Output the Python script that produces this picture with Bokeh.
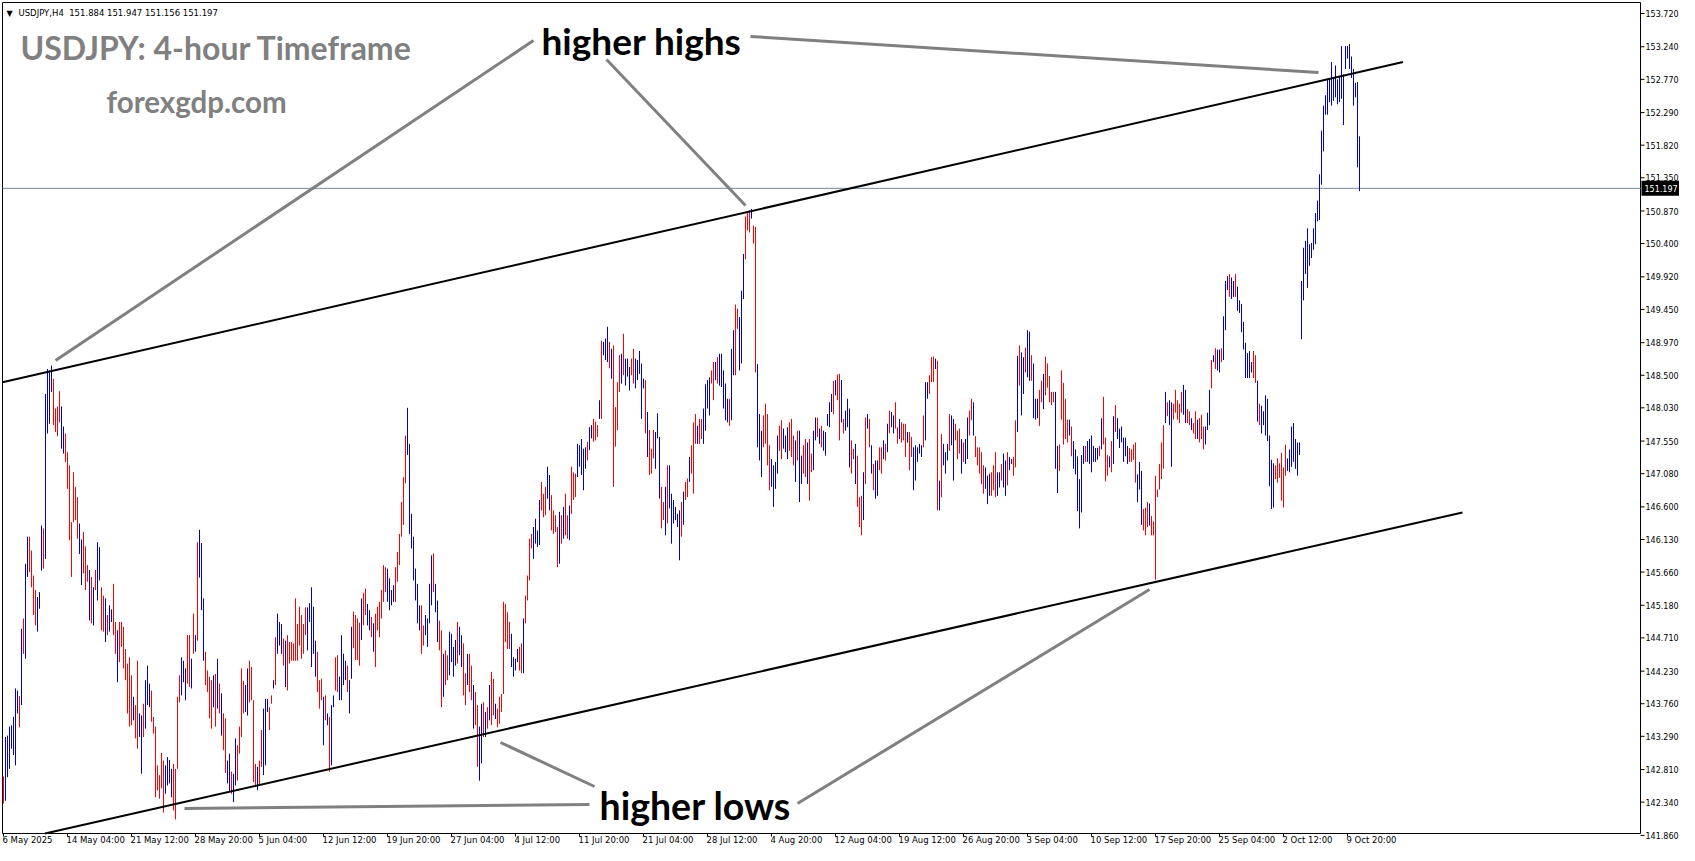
from bokeh.plotting import figure
from bokeh.models import Range1d, ColumnDataSource
from bokeh.core.properties import value
from bokeh.embed import file_html
from bokeh.resources import INLINE

# ------------------------------------------------------------------ data
symbol_header = "USDJPY,H4\u00a0\u00a0151.884 151.947 151.156 151.197"
last_price = 151.197

date_ticks = [0, 32, 64, 96, 128, 160, 192, 224, 256, 288, 320, 352, 384, 416,
              448, 480, 512, 544, 576, 608, 640, 672]
date_labels = ["6 May 2025", "14 May 04:00", "21 May 12:00", "28 May 20:00", "5 Jun 04:00",
               "12 Jun 12:00", "19 Jun 20:00", "27 Jun 04:00", "4 Jul 12:00", "11 Jul 20:00",
               "21 Jul 04:00", "28 Jul 12:00", "4 Aug 20:00", "12 Aug 04:00", "19 Aug 12:00",
               "26 Aug 20:00", "3 Sep 04:00", "10 Sep 12:00", "17 Sep 20:00", "25 Sep 04:00",
               "2 Oct 12:00", "9 Oct 20:00"]
price_ticks = [153.72, 153.24, 152.77, 152.29, 151.82, 151.35, 150.87, 150.40, 149.92,
               149.45, 148.97, 148.50, 148.03, 147.55, 147.08, 146.60, 146.13, 145.66,
               145.18, 144.71, 144.23, 143.76, 143.29, 142.81, 142.34, 141.86]

# channel lines (bar index, price)
upper_channel_x = [-0.5, 699.75]
upper_channel_y = [148.398, 153.02]
lower_channel_x = [-0.25, 729.5]
lower_channel_y = [141.75, 146.52]

# H4 bars: 6 May 20:00 .. 16 Jun 16:00
high_a = [142.71,143.28,143.30,143.43,143.45,143.57,143.98,143.95,143.87,144.84,
          144.99,145.78,146.17,146.17,145.97,145.61,145.40,145.30,145.37,146.33,
          146.29,148.23,148.59,148.57,148.64,148.45,148.02,148.05,148.27,148.05,
          147.76,147.66,147.39,147.20,146.38,147.10,146.89,146.74,146.36,146.13,
          146.24,146.03,145.76,145.69,145.59,145.44,145.69,146.09,146.02,145.44,
          145.32,145.28,145.04,145.18,145.12,145.49,144.94,144.82,144.94,144.94,
          144.87,144.55,144.34,144.43,144.17,143.86,143.74,144.38,143.62,143.59,
          143.76,144.10,144.31,144.05,143.95,143.57,143.43,142.87,142.73,143.05,
          142.94,142.87,142.99,142.95,142.82,142.89,142.82,143.86,144.17,144.43,
          144.38,144.27,144.75,144.75,144.41,145.06,144.75,146.09,146.27,146.08,
          145.28,144.51,144.24,144.15,144.10,144.17,144.19,144.41,144.05,143.91,
          143.62,143.55,142.94,143.04,142.78,142.75,143.26,143.16,143.43,144.27,
          144.09,144.03,144.27,144.38,144.29,143.81,142.89,142.85,142.94,143.38,
          143.69,143.83,143.83,143.71,143.88,144.10,144.72,145.06,144.94,144.91,
          144.70,144.67,144.75,144.65,144.65,144.63,145.28,144.91,145.16,145.04,
          144.91,145.15,145.15,145.21,145.44,145.16,144.67,144.51,144.10,144.12,
          143.86,143.88,143.62,143.57,143.74,143.88,144.43,144.46,144.15,144.75,
          144.48,144.38,144.31,144.10]
low_a = [142.32,142.36,142.70,142.82,143.11,143.02,142.87,143.62,143.42,143.74,
         144.48,144.41,145.59,145.66,145.44,145.04,144.89,144.80,145.13,145.68,
         145.71,145.85,147.66,147.80,148.26,147.78,147.68,147.62,147.82,147.44,
         147.37,147.25,146.86,146.12,145.59,146.38,146.41,146.14,145.92,145.47,
         145.64,145.40,145.52,144.96,144.92,144.89,145.40,145.25,145.54,144.82,
         144.80,144.65,144.75,144.80,144.94,144.75,144.48,144.07,144.36,144.58,
         144.27,144.10,143.62,143.43,143.45,143.52,143.26,143.11,143.28,142.75,
         143.28,143.40,143.74,143.71,143.50,143.33,142.41,142.51,142.39,142.54,
         142.19,142.46,142.58,142.61,142.41,142.22,142.09,142.82,143.78,143.88,
         144.07,143.81,144.05,144.00,143.98,144.48,144.51,144.67,145.58,145.11,
         144.38,144.03,143.93,143.55,143.40,143.71,143.43,143.69,143.62,143.30,
         143.09,142.76,142.61,142.49,142.46,142.34,142.58,142.65,143.04,143.28,
         143.62,143.64,143.59,143.78,143.81,142.63,142.56,142.51,142.58,142.85,
         142.73,142.87,143.64,143.38,143.76,143.98,144.03,144.48,144.60,144.48,
         144.31,144.00,143.95,144.34,144.38,144.38,144.38,144.38,144.60,144.41,
         144.48,144.75,144.53,144.94,144.29,144.48,144.15,143.93,143.69,143.81,
         143.16,143.52,143.45,142.78,142.87,143.71,143.95,143.93,143.81,143.81,
         144.03,144.10,143.93,143.62]
dir_a = ("duuuuuuudu duudddduuud uuuudddduud dddddduudd dududuudd "
         "uduuddudddd dddudduudu uudddddddu uuudddduuu ddududuuudd "
         "ddudududduu d")

# 16 Jun 20:00 .. 25 Jul 00:00
high_b = [144.87,145.09,145.04,144.99,144.93,145.28,145.36,145.42,145.20,145.11,
          145.01,144.92,145.06,145.16,145.23,145.40,145.76,145.73,145.71,145.57,
          145.40,145.47,145.73,145.95,146.21,146.67,147.03,147.63,148.03,147.51,
          146.50,146.17,145.71,145.49,145.18,145.18,144.89,145.04,144.99,145.49,
          145.90,145.93,145.49,145.25,144.96,144.82,144.48,144.53,144.46,144.80,
          144.77,144.58,144.68,144.94,144.87,144.75,144.63,144.20,144.48,144.48,
          144.31,144.03,143.93,143.74,143.43,143.76,143.78,143.64,143.71,144.03,
          144.22,144.12,143.76,143.69,143.86,143.90,145.23,145.20,145.08,144.94,
          144.77,144.43,144.41,144.55,144.58,144.63,144.99,145.32,145.61,146.14,
          146.21,146.31,146.43,146.26,146.70,146.96,146.79,146.89,147.18,147.06,
          146.77,146.55,146.48,146.31,146.53,146.48,146.60,146.79,146.48,146.62,
          147.18,147.10,147.08,147.51,147.49,147.58,147.44,147.46,147.54,147.75,
          147.78,147.87,147.83,147.78,148.14,149.00,148.98,149.03,149.20,148.98,
          148.88,148.93,148.04,148.40,148.79,148.81,149.10,148.74,148.74,148.62,
          148.74,148.88,148.74,148.72,148.85,148.67,148.45,148.43,147.97,147.71,
          147.44,147.71,147.68,147.95,147.61,146.89,146.67,146.89,147.20,147.20,
          146.79,146.70,146.60,146.50,146.55,146.67,146.82,146.96,147.01,147.32]
low_b = [144.12,144.56,144.39,144.39,144.31,144.68,144.89,145.04,144.89,144.82,
         144.72,144.51,144.29,144.82,144.72,144.99,145.23,145.37,145.23,145.11,
         145.18,145.23,145.23,145.52,145.76,146.17,146.34,146.94,147.35,146.21,
         146.00,145.54,145.25,144.92,144.82,144.48,144.60,144.75,144.58,144.92,
         145.18,145.37,145.08,144.65,144.53,143.71,143.86,144.03,144.10,144.17,
         144.36,144.15,144.31,144.34,144.46,144.29,143.88,143.74,144.03,143.93,
         143.81,143.40,143.45,142.85,142.65,142.90,143.28,143.28,143.40,143.52,
         143.45,143.59,143.54,143.42,143.47,143.64,143.90,144.65,144.55,144.55,
         144.29,144.15,144.24,144.36,144.24,144.20,144.20,144.92,145.25,145.54,
         146.00,145.85,146.07,146.02,146.05,146.55,146.45,146.48,146.72,146.55,
         146.26,146.21,146.24,145.73,145.78,146.07,146.14,146.19,146.14,146.12,
         146.50,146.70,146.74,147.03,147.18,147.06,146.84,147.15,147.27,147.42,
         147.59,147.54,147.56,147.61,147.87,147.87,148.79,148.72,148.69,148.60,
         148.45,146.89,147.47,147.71,148.26,148.38,148.50,148.35,148.48,148.28,
         148.50,148.38,148.31,148.43,148.52,147.87,148.31,147.66,147.32,147.06,
         147.08,147.30,147.15,147.59,146.72,146.29,146.41,146.19,146.36,146.58,
         146.07,146.36,146.41,146.31,145.83,146.17,146.34,146.70,146.74,146.96]
dir_b = ("uudddduudd ddudduuudd uduuududdd ddddddduuuu udddududuu "
         "dduuuuduudd ddudduudud ddddduuuudd dddduuuuuuu dduuuuduud "
         "dudduuuudu uddudduddu udududduddd dddduuuuddu dddduuuuddd "
         "uuddddudud duddduuuuu")

# 25 Jul 04:00 .. 3 Sep 00:00
high_c = [147.49,147.82,147.94,147.77,147.87,147.87,148.02,148.37,148.43,148.47,
          148.57,148.69,148.69,148.76,148.81,148.81,148.57,148.38,148.16,148.16,
          148.88,149.15,149.52,149.46,149.34,149.72,150.25,150.79,150.84,150.88,
          150.90,150.66,150.64,148.66,147.94,147.70,147.92,148.09,147.94,147.49,
          147.29,147.20,147.25,147.63,147.77,147.85,147.73,147.63,147.75,147.82,
          147.87,147.63,147.56,147.70,147.70,147.34,147.49,147.58,147.53,147.58,
          147.37,147.70,147.89,147.89,147.73,147.77,147.70,147.68,147.94,148.11,
          148.23,148.42,148.43,148.51,148.52,148.43,147.87,147.99,148.16,148.02,
          147.56,147.44,147.51,147.34,146.74,146.76,147.10,147.89,147.94,147.87,
          147.49,147.22,147.27,147.27,147.46,147.46,147.56,147.51,147.80,147.99,
          147.97,147.92,148.11,147.75,147.87,147.82,147.80,147.80,147.68,147.68,
          147.61,147.46,147.49,147.46,147.51,147.49,147.92,148.40,148.40,148.50,
          148.76,148.77,148.74,148.71,146.98,147.65,147.51,147.39,147.51,147.94,
          147.92,147.87,147.80,147.70,147.73,147.58,147.53,147.58,147.89,147.99,
          148.16,148.11,147.62,147.46,147.46,147.39,147.20,147.17,147.05,147.08,
          147.10,147.20,147.39,147.10,147.10,147.22,147.37,147.27,147.39,147.32,
          147.29,147.32,147.85,148.78,148.93,148.83,148.76,148.90,149.15]
low_c = [147.08,146.79,147.51,147.51,147.51,147.58,147.51,147.70,148.02,147.92,
         148.38,148.14,148.43,148.38,148.35,148.33,148.02,147.85,147.82,147.77,
         147.85,148.50,148.50,149.17,148.57,148.67,149.60,150.17,150.59,150.56,
         150.76,150.40,148.54,147.46,147.27,147.03,147.46,147.51,147.20,146.84,
         146.89,146.60,146.86,147.08,147.41,147.29,147.44,147.39,147.29,147.41,
         147.32,147.20,146.96,147.27,146.67,146.93,147.08,147.03,146.93,146.69,
         147.10,147.13,147.56,147.61,147.51,147.46,147.41,147.34,147.77,147.75,
         147.97,147.94,148.21,148.14,147.56,147.82,147.66,147.70,147.75,147.17,
         147.08,147.29,146.93,146.60,146.31,146.19,146.41,146.93,147.73,147.46,
         147.08,146.84,146.72,146.76,147.13,147.08,147.29,147.27,147.39,147.66,
         147.75,147.66,147.73,147.51,147.58,147.53,147.56,147.32,147.53,147.13,
         147.32,146.84,146.98,147.25,147.37,147.32,147.46,147.56,148.16,148.23,
         148.40,148.40,148.59,146.55,146.55,146.74,147.20,147.08,147.27,147.41,
         147.49,146.98,147.56,147.29,147.37,147.08,147.25,147.22,147.29,147.63,
         147.85,147.63,147.32,147.20,147.08,146.93,146.79,146.86,146.64,146.76,
         146.76,146.84,146.74,146.76,146.88,146.98,146.88,146.76,146.91,147.13,
         147.22,147.05,147.17,147.68,148.35,147.92,148.23,148.54,148.47]
dir_c = ("duudddudu uududdddud uuudduuuuu duddduuudd uduuuuuudu "
         "ddudddudd uuuudduduuu uuduudduuud ddudduuudd dduuuudduu "
         "uddduduudd u dduududuuuu ududduduuu ddudddudud uduuddudud "
         "uuddudddudd uuuuuduudd")

# 3 Sep 04:00 .. 10 Oct 20:00
high_d = [149.13,148.79,148.67,148.16,148.16,148.29,148.42,148.52,148.77,148.67,
          148.49,148.26,148.26,148.26,147.48,147.50,148.57,148.39,148.16,147.86,
          147.86,147.76,147.55,147.43,147.33,147.00,147.35,147.48,147.48,147.55,
          147.58,147.63,147.48,147.45,147.45,147.48,147.88,148.19,147.60,147.35,
          147.33,147.55,147.91,148.07,147.88,147.73,147.76,147.60,147.60,147.48,
          147.45,147.43,147.50,147.53,147.07,147.25,147.12,146.57,146.59,146.67,
          146.65,146.47,146.39,147.05,146.85,147.22,147.53,147.78,148.26,148.11,
          148.14,148.11,148.09,148.29,148.14,148.09,148.26,148.36,148.29,148.01,
          147.98,147.88,147.81,147.98,147.86,147.88,147.93,147.76,147.76,147.96,
          148.29,148.72,148.79,148.89,148.87,148.87,148.89,149.35,149.86,149.93,
          149.96,149.91,149.86,149.96,149.78,149.58,149.53,149.27,148.97,148.82,
          148.85,148.69,148.85,148.79,148.42,148.09,148.06,147.98,148.21,148.16,
          147.63,147.28,147.23,147.20,147.30,147.23,147.38,147.17,147.50,147.30,
          147.43,147.76,147.81,147.58,147.53,147.53,149.86,150.34,150.44,150.62,
          150.39,150.41,150.62,150.84,151.02,151.40,152.03,152.39,152.54,152.77,
          152.79,153.02,152.79,152.97,152.77,152.82,153.25,152.84,153.25,153.25,
          153.28,153.10,152.92,152.72,152.73,151.947]
low_d = [148.42,148.42,147.88,147.86,147.88,147.77,148.11,148.01,148.21,148.32,
         148.11,148.07,148.11,147.15,146.80,147.12,147.86,147.50,147.58,147.53,
         147.63,147.33,147.15,147.07,146.54,146.29,146.52,147.22,147.25,147.25,
         147.22,147.10,147.25,147.25,147.28,147.33,147.43,147.50,146.97,147.05,
         147.17,147.10,147.22,147.68,147.58,147.45,147.53,147.25,147.33,147.22,
         147.25,147.25,147.28,146.95,146.67,146.85,146.34,146.26,146.19,146.31,
         146.33,146.19,146.19,145.55,146.74,146.85,147.00,147.15,147.81,147.91,
         147.78,147.18,147.86,147.96,147.86,147.81,147.96,147.93,147.81,147.81,
         147.78,147.71,147.66,147.58,147.58,147.53,147.58,147.43,147.50,147.71,
         147.78,148.31,148.69,148.59,148.57,148.54,148.69,148.72,149.15,149.73,
         149.63,149.60,149.63,149.63,149.43,149.40,149.12,148.87,148.46,148.46,
         148.46,148.54,148.46,148.39,147.83,147.78,147.66,147.78,147.63,147.55,
         146.90,146.57,146.59,147.00,146.95,147.02,146.69,146.59,147.05,147.12,
         147.10,147.18,147.25,147.15,147.05,147.35,149.02,149.58,149.96,149.76,
         150.08,150.19,150.31,150.39,150.72,150.74,151.25,151.73,152.26,152.26,
         152.44,152.39,152.46,152.51,152.41,152.44,152.49,152.11,152.92,153.07,
         152.92,152.79,152.39,152.51,151.50,151.156]
dir_d = ("dududuuudu uddd ud uuddu dddddu uuddd uuduuduuddu duuduuduuud "
         "dudddddu udd dddudu uuuu uduuuuuudu dddududuuu uuudddduuud "
         "ddudddddddu duuddddduud dudduddduuu duduuduuud uudu uuuuuuu "
         "ddudu uuuuuu dddddd")

# ------------------------------------------------------------------ assemble
def dirs(s):
    return [c for c in s if c in "ud"]

highs = high_a + high_b + high_c + high_d
lows = low_a + low_b + low_c + low_d
n = len(highs)
ds = (dirs(dir_a) + dirs(dir_b) + dirs(dir_c) + dirs(dir_d) + ["u"] * n)[:n]
xs = list(range(n))
cols = ["#0000CD" if d == "u" else "#FF0000" for d in ds]
src = ColumnDataSource(dict(x=xs, high=highs, low=lows, color=cols))

W, H = 1679, 845
PPU_X = 2.0            # pixels per bar
PPU_Y = 69.3           # pixels per yen
X0 = -1.5              # bar i sits at pixel 2*i + 3
YTOP = 153.72 + 13.0 / PPU_Y
p = figure(width=W, height=H, output_backend="svg", toolbar_location=None,
           x_range=Range1d(X0, X0 + W / PPU_X), y_range=Range1d(YTOP - H / PPU_Y, YTOP),
           x_axis_location=None, y_axis_location=None, min_border=0)
p.xgrid.visible = False
p.ygrid.visible = False
p.outline_line_color = None
p.background_fill_color = "white"
p.border_fill_color = "white"

def cx(px):   # pixel -> x data
    return X0 + px / PPU_X

def cy(py):   # pixel -> y data
    return YTOP - py / PPU_Y

# chart frame (pixels)
L_EDGE, T_EDGE, R_EDGE, B_EDGE = 2, 2, 1640, 833
p.segment(x0=[cx(L_EDGE), cx(L_EDGE), cx(R_EDGE), cx(L_EDGE)],
          y0=[cy(T_EDGE), cy(T_EDGE), cy(T_EDGE), cy(B_EDGE)],
          x1=[cx(R_EDGE), cx(L_EDGE), cx(R_EDGE), cx(R_EDGE)],
          y1=[cy(T_EDGE), cy(B_EDGE), cy(B_EDGE), cy(B_EDGE)],
          line_color="black", line_width=1)

# price scale ticks and labels
p.segment(x0=[cx(R_EDGE)] * len(price_ticks), y0=price_ticks,
          x1=[cx(R_EDGE + 4)] * len(price_ticks), y1=price_ticks,
          line_color="black", line_width=1)
p.text(x=[cx(R_EDGE + 5)] * len(price_ticks), y=price_ticks,
       text=["%.3f" % v for v in price_ticks], text_font=value("DejaVu Sans"),
       text_font_size="8px", text_color="black", text_align="left", text_baseline="middle")

# time scale ticks and labels
p.segment(x0=date_ticks, y0=[cy(B_EDGE)] * len(date_ticks),
          x1=date_ticks, y1=[cy(B_EDGE + 3)] * len(date_ticks),
          line_color="black", line_width=1)
p.text(x=[t - 0.5 for t in date_ticks], y=[cy(B_EDGE + 6.3)] * len(date_ticks),
       text=date_labels, text_font=value("DejaVu Sans"), text_font_size="8.5px",
       text_color="black", text_align="left", text_baseline="middle")

# bid line
p.segment(x0=[cx(L_EDGE)], y0=[last_price], x1=[cx(R_EDGE)], y1=[last_price],
          line_color="#778899", line_width=1)

# bars
p.segment(x0="x", y0="low", x1="x", y1="high", line_color="color", line_width=1, source=src)

# channel lines (lower one starts where it meets the time scale)
slope_lo = (lower_channel_y[1] - lower_channel_y[0]) / (lower_channel_x[1] - lower_channel_x[0])
x_lo_start = lower_channel_x[0] + (cy(B_EDGE) - lower_channel_y[0]) / slope_lo
p.line(upper_channel_x, upper_channel_y, line_color="black", line_width=2)
p.line([x_lo_start, lower_channel_x[1]],
       [cy(B_EDGE), lower_channel_y[1]], line_color="black", line_width=2)

# annotation pointer lines (pixel positions)
gray_lines = [((533, 40), (55, 360)), ((606, 59), (745, 205)), ((750, 36), (1318, 72)),
              ((594, 786), (500, 742)), ((797, 803), (1149, 589)), ((589, 804), (184, 808))]
p.segment(x0=[cx(a[0]) for a, b in gray_lines], y0=[cy(a[1]) for a, b in gray_lines],
          x1=[cx(b[0]) for a, b in gray_lines], y1=[cy(b[1]) for a, b in gray_lines],
          line_color="#808080", line_width=3)

def add_text(text, xf, yf, size, color, font="Lato", style="bold"):
    p.text(x=[cx(xf)], y=[cy(yf)], text=[text], text_font=value(font), text_font_size=size,
           text_font_style=style, text_color=color, text_align="left",
           text_baseline="alphabetic")

add_text("USDJPY: 4-hour Timeframe", 20, 46.5, "32px", "#808080")
add_text("forexgdp.com", 106, 100.5, "29.5px", "#808080")
add_text("higher highs", 541, 39.5, "37px", "black")
add_text("higher lows", 599, 805, "37.5px", "black")
add_text("\u25BC", 6, 12.5, "8px", "black", font="DejaVu Sans", style="normal")
add_text(symbol_header, 18, 12.5, "8.5px", "black", font="DejaVu Sans", style="normal")

# current price box on the price scale
p.quad(left=[cx(R_EDGE + 1)], right=[cx(W)],
       bottom=[last_price - 7.5 / PPU_Y], top=[last_price + 7.5 / PPU_Y],
       fill_color="black", line_color=None)
p.text(x=[cx(R_EDGE + 4)], y=[last_price], text=["%.3f" % last_price],
       text_font=value("DejaVu Sans"), text_font_size="8px", text_color="white",
       text_align="left", text_baseline="middle")

open("out.html", "w").write(file_html(p, INLINE))
